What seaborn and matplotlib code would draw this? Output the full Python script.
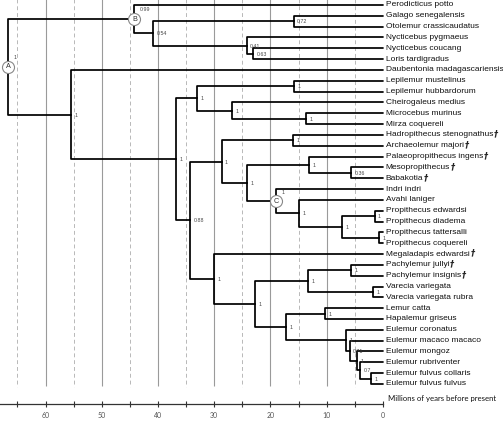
# plot.py
# Time-calibrated primate tree (lemurs and lorises) drawn with seaborn

import seaborn as sns

import matplotlib.pyplot as plt
import numpy as np
import pandas as pd

# tips, top to bottom
tips = [
    "Perodicticus potto", "Galago senegalensis", "Otolemur crassicaudatus",
    "Nycticebus pygmaeus", "Nycticebus coucang", "Loris tardigradus",
    "Daubentonia madagascariensis", "Lepilemur mustelinus", "Lepilemur hubbardorum",
    "Cheirogaleus medius", "Microcebus murinus", "Mirza coquereli",
    "Hadropithecus stenognathus", "Archaeolemur majori", "Palaeopropithecus ingens",
    "Mesopropithecus", "Babakotia", "Indri indri", "Avahi laniger",
    "Propithecus edwardsi", "Propithecus diadema", "Propithecus tattersalli",
    "Propithecus coquereli", "Megaladapis edwardsi", "Pachylemur jullyi",
    "Pachylemur insignis", "Varecia variegata", "Varecia variegata rubra",
    "Lemur catta", "Hapalemur griseus", "Eulemur coronatus", "Eulemur macaco macaco",
    "Eulemur mongoz", "Eulemur rubriventer", "Eulemur fulvus collaris",
    "Eulemur fulvus fulvus",
]

fossils = [
    "Hadropithecus stenognathus", "Archaeolemur majori", "Palaeopropithecus ingens",
    "Mesopropithecus", "Babakotia", "Megaladapis edwardsi", "Pachylemur jullyi",
    "Pachylemur insignis",
]

# internal nodes -> children
children = {
    "A": ["B", "lemuriformes"],
    "B": ["Perodicticus potto", "n_lorisoid"],
    "n_lorisoid": ["n_galago", "n_loris1"],
    "n_galago": ["Galago senegalensis", "Otolemur crassicaudatus"],
    "n_loris1": ["Nycticebus pygmaeus", "n_loris2"],
    "n_loris2": ["Nycticebus coucang", "Loris tardigradus"],
    "lemuriformes": ["Daubentonia madagascariensis", "n_lemuroidea"],
    "n_lemuroidea": ["n_cheiro_lep", "n_rest"],
    "n_cheiro_lep": ["n_lepilemur", "n_cheiro"],
    "n_lepilemur": ["Lepilemur mustelinus", "Lepilemur hubbardorum"],
    "n_cheiro": ["Cheirogaleus medius", "n_micro"],
    "n_micro": ["Microcebus murinus", "Mirza coquereli"],
    "n_rest": ["n_indrioid", "n_lemurid_mega"],
    "n_indrioid": ["n_archaeo", "n_indri_palaeo"],
    "n_archaeo": ["Hadropithecus stenognathus", "Archaeolemur majori"],
    "n_indri_palaeo": ["n_palaeo", "C"],
    "n_palaeo": ["Palaeopropithecus ingens", "n_meso"],
    "n_meso": ["Mesopropithecus", "Babakotia"],
    "C": ["Indri indri", "n_avahi"],
    "n_avahi": ["Avahi laniger", "n_propithecus"],
    "n_propithecus": ["n_prop1", "n_prop2"],
    "n_prop1": ["Propithecus edwardsi", "Propithecus diadema"],
    "n_prop2": ["Propithecus tattersalli", "Propithecus coquereli"],
    "n_lemurid_mega": ["Megaladapis edwardsi", "n_lemuridae"],
    "n_lemuridae": ["n_pachy_varecia", "n_lemur_eulemur"],
    "n_pachy_varecia": ["n_pachy", "n_varecia"],
    "n_pachy": ["Pachylemur jullyi", "Pachylemur insignis"],
    "n_varecia": ["Varecia variegata", "Varecia variegata rubra"],
    "n_lemur_eulemur": ["n_lemur", "n_eul1"],
    "n_lemur": ["Lemur catta", "Hapalemur griseus"],
    "n_eul1": ["Eulemur coronatus", "n_eul2"],
    "n_eul2": ["Eulemur macaco macaco", "n_eul3"],
    "n_eul3": ["Eulemur mongoz", "n_eul4"],
    "n_eul4": ["Eulemur rubriventer", "n_eul5"],
    "n_eul5": ["Eulemur fulvus collaris", "Eulemur fulvus fulvus"],
}

# node ages (millions of years before present)
node_age = {
    "A": 66.6, "B": 44.2, "n_lorisoid": 40.9, "n_galago": 15.9, "n_loris1": 24.2,
    "n_loris2": 23.1, "lemuriformes": 55.5, "n_lemuroidea": 36.8, "n_cheiro_lep": 33.1,
    "n_lepilemur": 15.8, "n_cheiro": 26.8, "n_micro": 13.6, "n_rest": 34.3,
    "n_indrioid": 28.7, "n_archaeo": 15.95, "n_indri_palaeo": 24.2, "n_palaeo": 13.1,
    "n_meso": 5.7, "C": 19.0, "n_avahi": 14.9, "n_propithecus": 7.2, "n_prop1": 1.5,
    "n_prop2": 0.65, "n_lemurid_mega": 30.1, "n_lemuridae": 22.7, "n_pachy_varecia": 13.3,
    "n_pachy": 5.7, "n_varecia": 1.7, "n_lemur_eulemur": 17.2, "n_lemur": 10.3,
    "n_eul1": 6.6, "n_eul2": 5.9, "n_eul3": 4.6, "n_eul4": 4.0, "n_eul5": 2.1,
}

# posterior support
node_support = {
    "A": "1", "B": "0.99", "n_lorisoid": "0.54", "n_galago": "0.72", "n_loris1": "0.41",
    "n_loris2": "0.63", "lemuriformes": "1", "n_lemuroidea": "1", "n_cheiro_lep": "1",
    "n_lepilemur": "1", "n_cheiro": "1", "n_micro": "1", "n_rest": "0.88",
    "n_indrioid": "1", "n_archaeo": "1", "n_indri_palaeo": "1", "n_palaeo": "1",
    "n_meso": "0.36", "C": "1", "n_avahi": "1", "n_propithecus": "1", "n_prop1": "1",
    "n_prop2": "1", "n_lemurid_mega": "1", "n_lemuridae": "1", "n_pachy_varecia": "1",
    "n_pachy": "1", "n_varecia": "1", "n_lemur_eulemur": "1", "n_lemur": "1",
    "n_eul1": "1", "n_eul2": "0.71", "n_eul3": "1", "n_eul4": "0.7", "n_eul5": "1",
}

circled = ["A", "B", "C"]

major_ticks = [60, 50, 40, 30, 20, 10, 0]
minor_ticks = [65, 55, 45, 35, 25, 15, 5]


def node_y(name):
    if name in tips:
        return tips.index(name)
    kids = children[name]
    return (node_y(kids[0]) + node_y(kids[-1])) / 2


def age_of(name):
    return node_age.get(name, 0.0)


def build_edges():
    """ Elbow path for every parent-child edge """
    rows = []
    for parent, kids in children.items():
        px, py = age_of(parent), node_y(parent)
        for kid in kids:
            cx, cy = age_of(kid), node_y(kid)
            edge = parent + "->" + kid
            for step, (x, y) in enumerate([(px, py), (px, cy), (cx, cy)]):
                rows.append({"edge": edge, "step": step, "age": x, "y": y})
    return pd.DataFrame(rows)


def plot_tree():
    sns.set_style("white")
    plt.rcParams['font.family'] = ['Liberation Sans', 'DejaVu Sans']

    fig = plt.figure(figsize=(5.03, 4.21), dpi=100)
    ax = fig.add_axes([0, 0, 1, 1])

    # grid
    ax.vlines(major_ticks[:-1], -0.6, 35.2, color="#9a9a9a", lw=0.8, zorder=0)
    ax.vlines(minor_ticks, -0.6, 35.3, color="#b8b8b8", lw=0.7,
              linestyles=(0, (4, 3)), zorder=0)

    edges = build_edges()
    sns.lineplot(data=edges, x="age", y="y", units="edge", estimator=None,
                 sort=False, color="black", lw=1.25, ax=ax, legend=False, zorder=2)

    # support values
    for name, sup in node_support.items():
        x, y = age_of(name), node_y(name)
        if name in circled:
            ax.text(x - 0.9, y - 0.85, sup, fontsize=3.8, color="#444", va="center", ha="left")
        else:
            ax.text(x - 0.6, y + 0.05, sup, fontsize=3.8, color="#444", va="center", ha="left")

    # circled nodes
    circ = pd.DataFrame({"age": [age_of(n) for n in circled],
                         "y": [node_y(n) for n in circled]})
    sns.scatterplot(data=circ, x="age", y="y", s=75, color="white",
                    edgecolor="#888888", linewidth=0.8, ax=ax, zorder=3)
    for n in circled:
        ax.text(age_of(n), node_y(n), n, fontsize=5.2, color="#333",
                ha="center", va="center", zorder=4)

    # tip labels
    for i, name in enumerate(tips):
        t = ax.text(-0.5, i, name, fontsize=6.0, color="#111", va="center", ha="left")
        if name in fossils:
            ax.annotate("\u2020", xy=(1, 0.6), xycoords=t, xytext=(0.5, 0),
                        textcoords="offset points", fontsize=6, fontweight="bold",
                        style="italic", va="center", ha="left", family="DejaVu Sans")

    ax.text(-0.9, 36.3, "Millions of years before present", fontsize=5.6,
            family="Lato", color="#111", va="center", ha="left")

    # axis
    ax.set_xlim(68.1, -21.35)
    ax.set_ylim(38.42, -0.46)
    for side in ["left", "top", "right"]:
        ax.spines[side].set_visible(False)
    ax.spines["bottom"].set_position(("data", 36.84))
    ax.spines["bottom"].set_bounds(0, 68.1)
    ax.spines["bottom"].set_linewidth(0.9)
    ax.spines["bottom"].set_color("#333")
    ax.set_xticks(major_ticks)
    ax.set_xticks(minor_ticks, minor=True)
    ax.set_xticklabels([str(t) for t in major_ticks], fontsize=5, color="#555", family="Lato")
    ax.tick_params(axis="x", which="both", direction="inout", length=4, width=0.8,
                   color="#333", pad=4, bottom=True)
    ax.set_yticks([])
    ax.set_xlabel("")
    ax.set_ylabel("")

    fig.savefig("out.png", dpi=100)


if __name__ == "__main__":
    plot_tree()
